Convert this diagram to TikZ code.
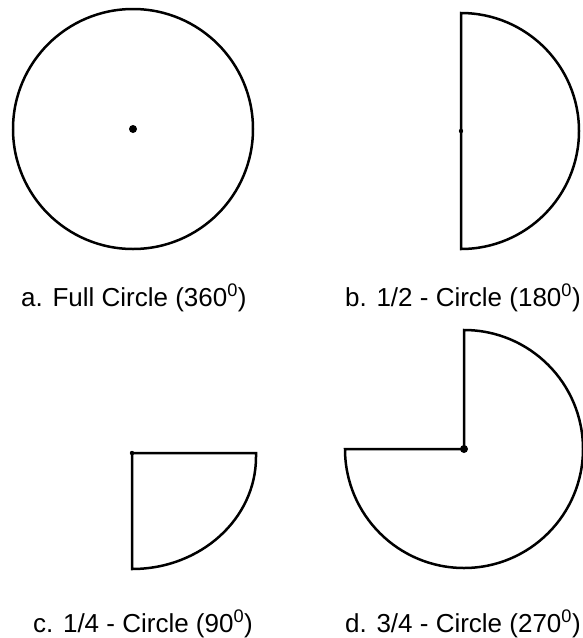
\documentclass[tikz,border=0pt]{standalone}
\usepackage{fontspec}
\setmainfont{Liberation Sans}
\begin{document}
\begin{tikzpicture}[x=1pt, y=-1pt,
  shp/.style={line width=2.5pt, line join=miter},
  dotbig/.style={fill=black},
  lbl/.style={anchor=base west, inner sep=0pt, font=\fontsize{26}{30}\selectfont}
]
\useasboundingbox (0,0) rectangle (582,638);
% centres
\coordinate (full) at (133,129);
\coordinate (half) at (461,131);
\coordinate (quart) at (132,453);
\coordinate (three) at (464,449);
% a. full circle
\draw[shp] (full) circle[radius=120];
\fill[dotbig] (full) circle[radius=4];
% b. half circle
\draw[shp] (half) ++(0,-118) arc(-90:90:118) -- cycle;
\fill (half) circle[radius=2.2];
% c. quarter circle
\draw[shp] (quart) -- ++(124,0) -- ++(0,4) arc(0:90:124 and 112) -- cycle;
\fill (quart) circle[radius=2.2];
% d. three quarter circle
\draw[shp] (three) -- ++(0,-119) arc(-90:180:119) -- cycle;
\fill[dotbig] (three) circle[radius=4];
% labels
\node[lbl] (la) at (21,306) {a. Full Circle (360\textsuperscript{0})};
\node[lbl] (lb) at (345,306) {b. 1/2 - Circle (180\textsuperscript{0})};
\node[lbl] (lc) at (33,632) {c. 1/4 - Circle (90\textsuperscript{0})};
\node[lbl] (ld) at (345,632) {d. 3/4 - Circle (270\textsuperscript{0})};
\end{tikzpicture}
\end{document}
